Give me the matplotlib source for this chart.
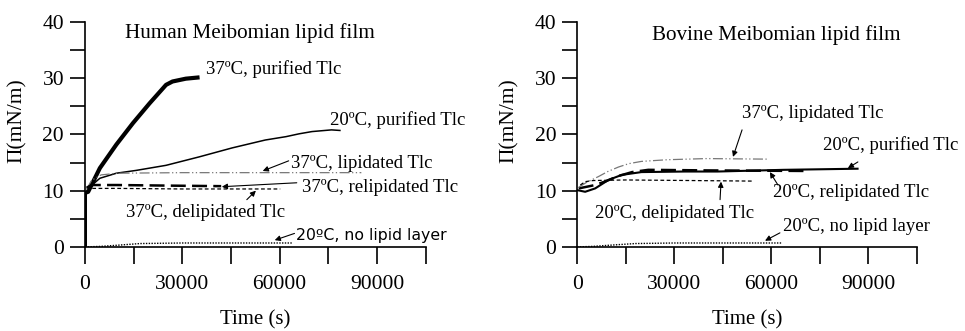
import numpy as np
import matplotlib
matplotlib.use("Agg")
import matplotlib.pyplot as plt

plt.rcParams['font.family'] = ['Liberation Serif', 'DejaVu Serif']

# ---- Human Meibomian lipid film (left) ----
h_pur37_t = [0, 0, 1000, 4600, 9700, 14800, 19900, 25000, 27000, 31100, 34700]
h_pur37_v = [0, 9.6, 9.8, 14.0, 18.2, 22.0, 25.5, 28.8, 29.4, 29.9, 30.1]

h_pur20_t = [1000, 4600, 9700, 15800, 25000, 35200, 45400, 55600, 62000, 66000, 70000, 76000, 78600]
h_pur20_v = [10.4, 12.2, 13.1, 13.6, 14.5, 16.0, 17.6, 19.0, 19.6, 20.1, 20.5, 20.8, 20.7]

h_lip37_t = [500, 2000, 5000, 10000, 30000, 60000, 85200]
h_lip37_v = [10.2, 11.8, 12.8, 13.1, 13.2, 13.2, 13.2]

h_relip37_t = [500, 2000, 10000, 25000, 42000]
h_relip37_v = [10.5, 11.0, 11.0, 10.9, 10.8]

h_delip37_t = [500, 2000, 10000, 30000, 60200]
h_delip37_v = [10.0, 10.4, 10.4, 10.3, 10.3]

h_none_t = [0, 5000, 10000, 17000, 30000, 50000, 63800]
h_none_v = [0.0, 0.1, 0.3, 0.6, 0.7, 0.7, 0.7]

# ---- Bovine Meibomian lipid film (right) ----
b_pur20_t = [0, 2500, 5600, 9700, 13800, 19900, 33200, 43400, 63800, 86700]
b_pur20_v = [10.1, 9.8, 10.4, 11.9, 12.8, 13.3, 13.4, 13.4, 13.7, 13.9]

b_relip20_t = [500, 5600, 9000, 12800, 17000, 22000, 40000, 70900]
b_relip20_v = [10.4, 11.0, 11.7, 12.6, 13.3, 13.7, 13.6, 13.5]

b_lip37_t = [500, 3000, 6600, 9500, 12800, 16000, 19900, 28000, 40000, 59200]
b_lip37_v = [10.6, 11.5, 12.5, 13.4, 14.2, 14.8, 15.2, 15.5, 15.7, 15.6]

b_delip20_t = [1000, 2500, 5000, 15000, 35000, 54100]
b_delip20_v = [11.0, 11.6, 11.8, 11.9, 11.8, 11.7]

b_none_t = [0, 5000, 10000, 18000, 30000, 50000, 63300]
b_none_v = [0.0, 0.1, 0.3, 0.6, 0.7, 0.7, 0.7]

fig = plt.figure(figsize=(9.65, 3.31), dpi=100)
ax1 = fig.add_axes([0.088, 0.254, 0.353, 0.68])
ax2 = fig.add_axes([0.598, 0.254, 0.352, 0.68])

gray = '#777777'

ax1.plot(h_pur37_t, h_pur37_v, color='k', lw=3)
ax1.plot(h_pur20_t, h_pur20_v, color='k', lw=1.1)
ax1.plot(h_lip37_t, h_lip37_v, color=gray, lw=0.9, dashes=(8, 2, 1, 2, 1, 2))
ax1.plot(h_relip37_t, h_relip37_v, color='k', lw=1.8, dashes=(6, 2.5))
ax1.plot(h_delip37_t, h_delip37_v, color='k', lw=0.9, dashes=(3, 2))
ax1.plot(h_none_t, h_none_v, color='k', lw=1, dashes=(1, 1))

ax2.plot(b_pur20_t, b_pur20_v, color='k', lw=1.5)
ax2.plot(b_relip20_t, b_relip20_v, color='k', lw=1.8, dashes=(6, 2.5))
ax2.plot(b_lip37_t, b_lip37_v, color=gray, lw=0.9, dashes=(8, 2, 1, 2, 1, 2))
ax2.plot(b_delip20_t, b_delip20_v, color='k', lw=0.9, dashes=(3, 2))
ax2.plot(b_none_t, b_none_v, color='k', lw=1, dashes=(1, 1))

for ax in (ax1, ax2):
    ax.set_xlim(0, 105000)
    ax.set_ylim(0, 40)
    ax.spines['top'].set_visible(False)
    ax.spines['right'].set_visible(False)
    ax.set_xticks(np.arange(0, 105001, 15000))
    ax.set_xticklabels(['0', '', '30000', '', '60000', '', '90000', ''])
    ax.set_yticks(np.arange(0, 41, 5))
    ax.set_yticklabels(['0', '', '10', '', '20', '', '30', '', '40'])
    ax.tick_params(axis='x', direction='out', length=12, width=1.2, pad=8, labelsize=15.5)
    ax.tick_params(axis='y', direction='out', length=11, width=1.2, pad=4, labelsize=15.5)
    ax.set_xlabel('Time (s)', fontsize=15, labelpad=12)
    ax.set_ylabel('Π(mN/m)', fontsize=15.5)
    ax.yaxis.set_label_coords(-0.17, 0.56)
    ax.patch.set_visible(False)
    for s in ('left', 'bottom'):
        ax.spines[s].set_linewidth(1.2)

fs = 13.5
arrow = dict(arrowstyle='-|>', color='k', lw=0.8, mutation_scale=8, shrinkA=0, shrinkB=0)

ax1.text(12300, 38.0, 'Human Meibomian lipid film', fontsize=15.2, va='center')
ax1.text(37300, 31.6, '37ºC, purified Tlc', fontsize=fs, va='center')
ax1.text(75400, 22.6, '20ºC, purified Tlc', fontsize=fs, va='center')
ax1.text(63600, 14.9, '37ºC, lipidated Tlc', fontsize=fs, va='center')
ax1.annotate('', xy=(54800, 13.5), xytext=(62800, 15.3), arrowprops=arrow)
ax1.text(67000, 10.5, '37ºC, relipidated Tlc', fontsize=fs, va='center')
ax1.annotate('', xy=(42200, 10.7), xytext=(65300, 11.4), arrowprops=arrow)
ax1.text(12600, 6.2, '37ºC, delipidated Tlc', fontsize=fs, va='center')
ax1.annotate('', xy=(52700, 10.0), xytext=(49900, 8.4), arrowprops=arrow)
ax1.text(65000, 2.0, '20ºC, no lipid layer', fontsize=11.3, va='center',
         family=['DejaVu Sans'])
ax1.annotate('', xy=(58500, 1.2), xytext=(64600, 2.4), arrowprops=arrow)

ax2.text(23200, 37.7, 'Bovine Meibomian lipid film', fontsize=15.2, va='center')
ax2.text(51000, 23.8, '37ºC, lipidated Tlc', fontsize=fs, va='center')
ax2.annotate('', xy=(48200, 16.0), xytext=(51000, 20.8), arrowprops=arrow)
ax2.text(76000, 18.1, '20ºC, purified Tlc', fontsize=fs, va='center')
ax2.annotate('', xy=(83700, 14.0), xytext=(86800, 15.1), arrowprops=arrow)
ax2.text(60500, 9.6, '20ºC, relipidated Tlc', fontsize=fs, va='center')
ax2.annotate('', xy=(59600, 13.3), xytext=(62100, 11.0), arrowprops=arrow)
ax2.text(5600, 6.0, '20ºC, delipidated Tlc', fontsize=fs, va='center')
ax2.annotate('', xy=(44500, 11.6), xytext=(44200, 8.4), arrowprops=arrow)
ax2.text(63600, 3.6, '20ºC, no lipid layer', fontsize=fs, va='center')
ax2.annotate('', xy=(58100, 1.1), xytext=(62700, 2.5), arrowprops=arrow)

fig.savefig('out.png', dpi=100)
